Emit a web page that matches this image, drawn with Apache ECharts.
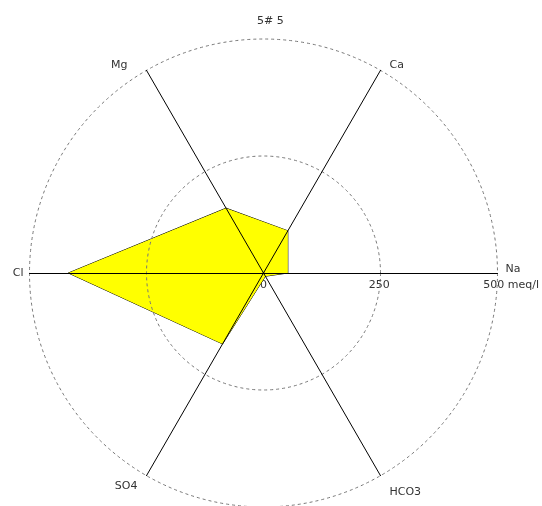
<!DOCTYPE html>
<html>
<head>
<meta charset="utf-8">
<script src="https://cdn.jsdelivr.net/npm/echarts@6/dist/echarts.min.js"></script>
<style>
  html, body { margin: 0; padding: 0; background: #fff; }
  #grafico { width: 542px; height: 506px; }
</style>
</head>
<body>
<div id="grafico"></div>
<script>
// Datos
const titulo = '5# 5';
const iones = ['Na', 'Ca', 'Mg', 'Cl', 'SO4', 'HCO3'];
const valores = [52, 104, 160, 417, 175, 8];   // meq/l
const maximo = 500;
const marcas = [0, 250, 500];
const unidad = 'meq/l';

const centro = [263.5, 273];
const radio = 234;

// pequeños desplazamientos de cada nombre de eje
const ajusteNombres = {
    Na: { padding: [0, 0, 8, 2] },
    Ca: { padding: [0, 0, 0, 6] },
    Mg: { padding: [0, 16, 0, 0] },
    Cl: { padding: [0, 0, 0, 0] },
    SO4: { padding: [10, 6, 0, 0] },
    HCO3: { padding: [22, 0, 0, 6] }
};

function crearGrafico() {
    return {
        animation: false,
        textStyle: { fontFamily: 'DejaVu Sans' },
        title: {
            text: titulo,
            left: 252,
            top: 11,
            textStyle: { fontSize: 11, fontWeight: 'normal', color: '#333', fontFamily: 'DejaVu Sans' }
        },
        radar: {
            z: 3,
            center: centro,
            radius: radio,
            startAngle: 0,
            shape: 'circle',
            splitNumber: 2,
            nameGap: 6,
            indicator: iones.map(n => ({ name: n, min: 0, max: maximo })),
            axisName: {
                color: '#333',
                fontSize: 11,
                fontFamily: 'DejaVu Sans',
                formatter: n => '{' + n + '|' + n + '}',
                rich: ajusteNombres
            },
            axisLine: { lineStyle: { color: '#000', width: 1 } },
            axisTick: { show: false },
            axisLabel: { show: false },
            splitLine: { lineStyle: { color: '#777', width: 1, type: [3, 3] } },
            splitArea: { show: false }
        },
        // eje auxiliar solo para las etiquetas 0 / 250 / 500 meq/l
        grid: { left: centro[0], width: radio, top: centro[1] - 1, height: 1 },
        xAxis: {
            type: 'value',
            min: 0,
            max: maximo,
            interval: 250,
            axisLine: { show: false },
            axisTick: { show: false },
            splitLine: { show: false },
            axisLabel: {
                margin: 7,
                fontSize: 11,
                color: '#333',
                fontFamily: 'DejaVu Sans',
                formatter: v => v === marcas[marcas.length - 1] ? '{p|}' + v + ' ' + unidad : String(v),
                rich: { p: { width: 32 } }
            }
        },
        yAxis: { type: 'value', show: false },
        series: [
            {
                type: 'radar',
                z: 2,
                symbol: 'none',
                lineStyle: { color: '#000', width: 1 },
                areaStyle: { color: '#ffff00', opacity: 1 },
                data: [{ value: valores, name: titulo }]
            }
        ]
    };
}

const myChart = echarts.init(document.getElementById('grafico'), null, { renderer: 'canvas' });
myChart.setOption(crearGrafico());
</script>
</body>
</html>
